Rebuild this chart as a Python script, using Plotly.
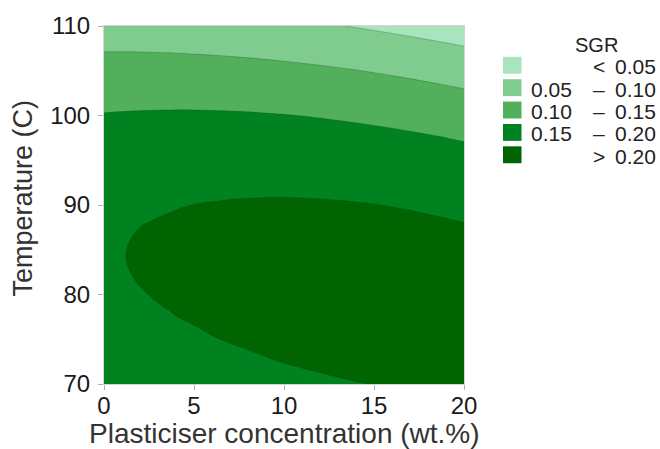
import numpy as np
import plotly.graph_objects as go

# ---- data ----
conc = [0, 1.25, 2.5, 3.75, 5, 6.25, 7.5, 8.75, 10, 11.25, 12.5, 13.75, 15, 16.25, 17.5, 18.75, 20]
temp = [70, 72.5, 75, 77.5, 80, 82.5, 85, 87.5, 90, 92.5, 95, 97.5, 100, 102.5, 105, 107.5, 110]
# estimated SGR surface, in units of 1e-4 (rows = temperature, cols = concentration)
sgr_1e4 = [
    [1535, 1594, 1649, 1700, 1749, 1793, 1834, 1872, 1905, 1936, 1963, 1986, 2006, 2022, 2034, 2043, 2049],
    [1668, 1722, 1774, 1821, 1865, 1906, 1943, 1977, 2007, 2033, 2056, 2075, 2091, 2103, 2112, 2117, 2118],
    [1776, 1827, 1874, 1918, 1958, 1995, 2028, 2057, 2083, 2106, 2125, 2140, 2152, 2160, 2164, 2165, 2163],
    [1860, 1907, 1950, 1990, 2026, 2059, 2088, 2114, 2136, 2154, 2169, 2180, 2188, 2192, 2193, 2190, 2184],
    [1920, 1963, 2002, 2038, 2070, 2099, 2124, 2145, 2164, 2178, 2189, 2196, 2200, 2200, 2197, 2190, 2180],
    [1955, 1994, 2029, 2061, 2090, 2114, 2135, 2153, 2167, 2178, 2185, 2188, 2188, 2184, 2177, 2166, 2152],
    [1966, 2001, 2032, 2060, 2085, 2105, 2123, 2136, 2146, 2153, 2156, 2155, 2151, 2143, 2132, 2117, 2099],
    [1953, 1984, 2011, 2035, 2055, 2072, 2085, 2095, 2101, 2104, 2103, 2098, 2090, 2078, 2063, 2044, 2022],
    [1915, 1942, 1965, 1985, 2002, 2014, 2024, 2029, 2032, 2030, 2025, 2017, 2005, 1989, 1970, 1947, 1921],
    [1853, 1876, 1895, 1911, 1924, 1932, 1938, 1939, 1938, 1932, 1923, 1911, 1895, 1875, 1852, 1825, 1795],
    [1766, 1785, 1801, 1813, 1821, 1826, 1827, 1825, 1819, 1810, 1797, 1781, 1761, 1737, 1710, 1679, 1645],
    [1655, 1670, 1682, 1690, 1694, 1695, 1693, 1686, 1677, 1663, 1646, 1626, 1602, 1575, 1543, 1509, 1471],
    [1520, 1531, 1539, 1543, 1543, 1540, 1534, 1523, 1510, 1492, 1471, 1447, 1419, 1388, 1353, 1314, 1272],
    [1360, 1367, 1371, 1371, 1368, 1361, 1350, 1336, 1318, 1297, 1272, 1244, 1212, 1176, 1137, 1095, 1049],
    [1176, 1179, 1179, 1175, 1168, 1157, 1142, 1124, 1102, 1077, 1048, 1016, 980, 941, 898, 851, 801],
    [968, 967, 963, 955, 943, 928, 910, 888, 862, 833, 800, 764, 724, 681, 634, 583, 529],
    [735, 730, 722, 710, 695, 676, 653, 627, 598, 565, 528, 488, 444, 396, 345, 291, 233],
]
levels = [0.05, 0.10, 0.15, 0.20]
band_colors = ["#a8e4be", "#80cc8e", "#52b05c", "#008221", "#006400"]
legend_lo = ["", "0.05", "0.10", "0.15", ""]
legend_sym = ["<", "\u2013", "\u2013", "\u2013", ">"]
legend_hi = ["0.05", "0.10", "0.15", "0.20", "0.20"]
x_ticks = [0, 5, 10, 15, 20]
y_ticks = [70, 80, 90, 100, 110]

# ---- figure ----
W, H = 660, 449
L, R, T, B = 104, 464, 24, 384
z = np.array(sgr_1e4) / 1e4

n = len(band_colors)
cscale = []
for i, c in enumerate(band_colors):
    cscale.append([i / n, c])
    cscale.append([(i + 1) / n, c])

FONT = "Liberation Sans, Arial, Helvetica, sans-serif"

fig = go.Figure()
fig.add_trace(go.Contour(
    x=conc, y=temp, z=z,
    contours=dict(start=levels[0], end=levels[-1], size=levels[1] - levels[0], coloring="fill"),
    colorscale=cscale, showscale=False,
    line=dict(width=0.6, color="rgba(20,60,20,0.45)", smoothing=1.3),
    hoverinfo="skip",
))

def px(xp):
    return (xp - L) / (R - L)

def py(yp):
    return (B - yp) / (B - T)

shapes = []
annotations = []
# legend
annotations.append(dict(x=px(596.5), y=py(43.5), xref="paper", yref="paper", text="SGR",
                        showarrow=False, xanchor="center", yanchor="middle",
                        font=dict(family=FONT, size=20, color="#222222")))
for i in range(n):
    cy = 63.5 + 22.5 * i
    shapes.append(dict(type="rect", xref="paper", yref="paper",
                       x0=px(503), x1=px(521.5), y0=py(cy + 8.5), y1=py(cy - 8.5),
                       fillcolor=band_colors[i], line=dict(width=0)))
    ty = cy + 1.5
    if legend_lo[i]:
        annotations.append(dict(x=px(574), y=py(ty), xref="paper", yref="paper", text=legend_lo[i],
                                showarrow=False, xanchor="right", yanchor="middle",
                                font=dict(family=FONT, size=21, color="#222222")))
    annotations.append(dict(x=px(599), y=py(ty), xref="paper", yref="paper", text=legend_sym[i],
                            showarrow=False, xanchor="center", yanchor="middle",
                            font=dict(family=FONT, size=21, color="#222222")))
    annotations.append(dict(x=px(658), y=py(ty), xref="paper", yref="paper", text=legend_hi[i],
                            showarrow=False, xanchor="right", yanchor="middle",
                            font=dict(family=FONT, size=21, color="#222222")))

# axis titles
annotations.append(dict(x=px(284), y=py(434), xref="paper", yref="paper",
                        text="Plasticiser concentration (wt.%)", showarrow=False,
                        xanchor="center", yanchor="middle",
                        font=dict(family=FONT, size=28, color="#333333")))
annotations.append(dict(x=px(23.5), y=py(197), xref="paper", yref="paper",
                        text="Temperature (C)", showarrow=False, textangle=-90,
                        xanchor="center", yanchor="middle",
                        font=dict(family=FONT, size=27, color="#333333")))

fig.update_layout(
    width=W, height=H,
    margin=dict(l=L, r=W - R, t=T, b=H - B, pad=0),
    paper_bgcolor="white", plot_bgcolor="white",
    showlegend=False,
    shapes=shapes, annotations=annotations,
    font=dict(family=FONT),
)
axis_common = dict(showgrid=False, zeroline=False, showline=True, mirror=True,
                   linecolor="#d4d4d4", linewidth=1,
                   ticks="outside", ticklen=5, tickwidth=1, tickcolor="#b0b0b0",
                   tickfont=dict(family=FONT, size=24, color="#1a1a1a"))
fig.update_xaxes(range=[0, 20], tickvals=x_ticks, ticklabelstandoff=-5, **axis_common)
fig.update_yaxes(range=[70, 110], tickvals=y_ticks, ticklabelstandoff=3, **axis_common)

fig.write_html("out.html", config={"displayModeBar": False},
               post_script="document.body.style.margin='0px';document.body.style.overflow='hidden';")
